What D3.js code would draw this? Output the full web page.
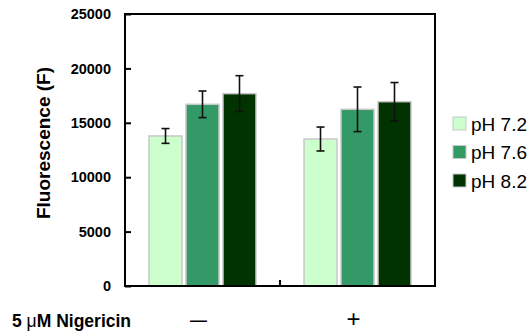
<!DOCTYPE html>
<html>
<head>
<meta charset="utf-8">
<script src="https://cdn.jsdelivr.net/npm/d3@7"></script>
<style>
  body { margin: 0; background: #fff; }
  svg { display: block; font-family: Arial, "Liberation Sans", sans-serif; }
</style>
</head>
<body>
<div id="graph"></div>
<script>
// treatment groups (x categories) and the three pH series
let groups = ['\u2013', '+'];
let series = ['pH 7.2', 'pH 7.6', 'pH 8.2'];
let colors = ['#ccffcc', '#339966', '#003300'];

// mean fluorescence per group, one array per series
let ph72 = [13790, 13510];
let ph76 = [16700, 16240];
let ph82 = [17680, 16940];

// error (+/-) per group
let ph72Err = [680, 1100];
let ph76Err = [1220, 2050];
let ph82Err = [1650, 1760];

let yTicks = [0, 5000, 10000, 15000, 20000, 25000];

let means = [ph72, ph76, ph82];
let errs = [ph72Err, ph76Err, ph82Err];

let margin = {top: 14, right: 96, bottom: 47, left: 125},
    width = 531 - margin.left - margin.right,
    height = 333 - margin.top - margin.bottom;

let svg = d3.select('div#graph').append('svg')
  .attr('width', 531)
  .attr('height', 333);

let g = svg.append('g')
  .attr('transform', 'translate(' + margin.left + ',' + margin.top + ')');

let x0 = d3.scaleBand().domain(groups).range([0, width]).padding(0);
let x1 = d3.scaleBand().domain(series).range([0, x0.bandwidth()])
  .paddingInner(4 / 37).paddingOuter(0.649);
let y = d3.scaleLinear().domain([0, 25000]).range([height, 0]);

let rows = [];
groups.forEach(function(grp, i) {
  series.forEach(function(s, j) {
    rows.push({group: grp, series: s, value: means[j][i], err: errs[j][i], color: colors[j]});
  });
});

// bars
g.selectAll('rect.bar')
  .data(rows)
  .enter().append('rect')
  .attr('class', 'bar')
  .attr('x', function(d) { return x0(d.group) + x1(d.series); })
  .attr('y', function(d) { return y(d.value); })
  .attr('width', x1.bandwidth())
  .attr('height', function(d) { return height - y(d.value); })
  .attr('fill', function(d) { return d.color; })
  .attr('stroke', '#c8c8c8')
  .attr('stroke-width', 1.5);

// error bars
let eb = g.selectAll('g.err')
  .data(rows)
  .enter().append('g')
  .attr('class', 'err')
  .attr('stroke', '#111')
  .attr('stroke-width', 1.6);

let cx = function(d) { return x0(d.group) + x1(d.series) + x1.bandwidth() / 2; };

eb.append('line')
  .attr('x1', cx).attr('x2', cx)
  .attr('y1', function(d) { return y(d.value + d.err); })
  .attr('y2', function(d) { return y(d.value - d.err); });
eb.append('line')
  .attr('x1', function(d) { return cx(d) - 4; }).attr('x2', function(d) { return cx(d) + 4; })
  .attr('y1', function(d) { return y(d.value + d.err); })
  .attr('y2', function(d) { return y(d.value + d.err); });
eb.append('line')
  .attr('x1', function(d) { return cx(d) - 4; }).attr('x2', function(d) { return cx(d) + 4; })
  .attr('y1', function(d) { return y(d.value - d.err); })
  .attr('y2', function(d) { return y(d.value - d.err); });

// y axis, ticks pointing inward
let yAxis = d3.axisLeft(y).tickValues(yTicks).tickSize(-6).tickPadding(14).tickFormat(d3.format('d'));
let ya = g.append('g').attr('class', 'y axis').call(yAxis);
ya.select('.domain').remove();
ya.selectAll('.tick line').attr('stroke', '#000').attr('stroke-width', 2);
ya.selectAll('.tick text')
  .attr('fill', '#000')
  .style('font-size', '14.5px')
  .style('font-weight', 'bold');

// middle x tick between groups
g.append('line')
  .attr('x1', x0(groups[1])).attr('x2', x0(groups[1]))
  .attr('y1', height).attr('y2', height - 6)
  .attr('stroke', '#000').attr('stroke-width', 2);

// frame
g.append('rect')
  .attr('x', 0).attr('y', 0)
  .attr('width', width).attr('height', height)
  .attr('fill', 'none')
  .attr('stroke', '#000')
  .attr('stroke-width', 2);

// group labels
g.selectAll('text.grp')
  .data(groups)
  .enter().append('text')
  .attr('class', 'grp')
  .attr('x', function(d) { return x0(d) + x0.bandwidth() / 2 - 4; })
  .attr('y', height + 41)
  .attr('text-anchor', 'middle')
  .style('font-size', '24px')
  .text(function(d) { return d; })
  .each(function(d) {
    if (d === '\u2013') d3.select(this).attr('textLength', 17).attr('lengthAdjust', 'spacingAndGlyphs');
  });

// axis titles
svg.append('text')
  .attr('transform', 'translate(50,' + (margin.top + height / 2 - 7) + ') rotate(-90)')
  .attr('text-anchor', 'middle')
  .style('font-size', '19px')
  .style('font-weight', 'bold')
  .text('Fluorescence (F)');

let lab = svg.append('text')
  .attr('x', 12)
  .attr('y', 327)
  .style('font-size', '17.5px')
  .style('font-weight', 'bold');
lab.append('tspan').text('5 ');
lab.append('tspan').style('font-weight', 'normal').text('\u03bc');
lab.append('tspan').text('M Nigericin');

// legend
let legend = svg.append('g').attr('transform', 'translate(453,117)');
let li = legend.selectAll('g')
  .data(series)
  .enter().append('g')
  .attr('transform', function(d, i) { return 'translate(0,' + (i * 28.5) + ')'; });
li.append('rect')
  .attr('width', 13).attr('height', 13)
  .attr('fill', function(d, i) { return colors[i]; })
  .attr('stroke', '#c8c8c8')
  .attr('stroke-width', 1);
li.append('text')
  .attr('x', 18)
  .attr('y', 13.5)
  .style('font-size', '19px')
  .text(function(d) { return d; });
</script>
</body>
</html>
